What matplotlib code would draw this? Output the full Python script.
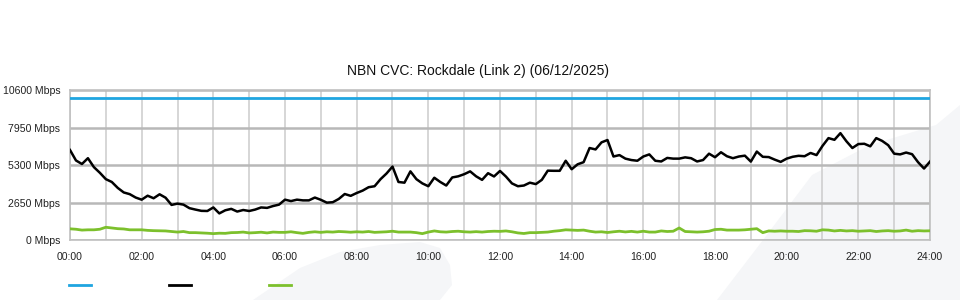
import matplotlib
matplotlib.use("Agg")
from matplotlib import pyplot as plt
from matplotlib.patches import Polygon
from matplotlib.lines import Line2D
import numpy as np

# 10 minute samples, hours since midnight
hours = np.arange(0, 24 + 1e-9, 1 / 6)

capacity_mbps = 10000

traffic_mbps = [
    6360, 5620, 5370, 5780, 5150, 4750,
    4300, 4100, 3680, 3360, 3240, 3000,
    2850, 3130, 2950, 3230, 2990, 2480,
    2570, 2500, 2250, 2150, 2060, 2050,
    2300, 1880, 2100, 2200, 2010, 2120,
    2050, 2150, 2300, 2270, 2400, 2500,
    2850, 2750, 2850, 2800, 2800, 3000,
    2840, 2640, 2670, 2900, 3250, 3120,
    3320, 3490, 3730, 3800, 4300, 4700,
    5190, 4100, 4050, 4850, 4300, 4000,
    3800, 4400, 4100, 3850, 4420, 4500,
    4650, 4850, 4500, 4250, 4720, 4490,
    4880, 4480, 4000, 3800, 3850, 4050,
    3950, 4250, 4900, 4890, 4890, 5600,
    5000, 5350, 5500, 6500, 6400, 6900,
    7066, 5900, 6000, 5750, 5650, 5600,
    5900, 6050, 5600, 5550, 5800, 5750,
    5750, 5840, 5780, 5550, 5650, 6100,
    5850, 6200, 5920, 5780, 5900, 5960,
    5540, 6250, 5880, 5860, 5680, 5520,
    5750, 5880, 5950, 5920, 6150, 6000,
    6650, 7200, 7080, 7550, 6980, 6500,
    6780, 6800, 6620, 7200, 7000, 6700,
    6100, 6050, 6180, 6064, 5500, 5050,
    5540,
]

upload_mbps = [
    790, 760, 700, 720, 720, 760,
    900, 850, 800, 780, 720, 720,
    720, 680, 660, 650, 640, 600,
    560, 600, 520, 520, 500, 480,
    450, 480, 470, 520, 530, 560,
    500, 520, 550, 500, 560, 540,
    540, 580, 520, 470, 540, 580,
    540, 580, 560, 600, 580, 550,
    580, 560, 600, 540, 560, 580,
    620, 560, 560, 560, 520, 450,
    560, 640, 580, 560, 600, 620,
    580, 560, 590, 560, 600, 620,
    610, 640, 580, 500, 460, 520,
    520, 540, 560, 620, 660, 720,
    700, 680, 700, 620, 560, 580,
    530, 580, 620, 570, 610, 560,
    620, 560, 560, 640, 600, 620,
    850, 600, 580, 560, 580, 620,
    740, 760, 700, 700, 700, 720,
    760, 800, 520, 640, 620, 640,
    620, 620, 600, 660, 650, 620,
    720, 700, 640, 680, 640, 660,
    620, 640, 660, 600, 640, 660,
    620, 640, 700, 620, 660, 640,
    650,
]

y_ticks = [0, 2650, 5300, 7950, 10600]
x_ticks = list(range(0, 25, 2))
x_labels = ["%02d:00" % h for h in x_ticks]

BLUE = "#1fa5e0"
GREEN = "#7cc02c"
SWOOSH = "#f5f6f8"

plt.rcParams["font.family"] = ["Liberation Sans", "DejaVu Sans"]

fig = plt.figure(figsize=(9.6, 3.0), dpi=100)
W, H = 960.0, 300.0

# faint background shapes
def px(points):
    return [(x / W, 1 - y / H) for x, y in points]

fig.add_artist(Polygon(px([(253, 300), (300, 268), (340, 252), (380, 245), (420, 242),
                           (440, 248), (450, 265), (452, 285), (440, 300)]),
                       closed=True, transform=fig.transFigure, facecolor=SWOOSH,
                       edgecolor="none", zorder=0))
fig.add_artist(Polygon(px([(717, 300), (763, 240), (812, 175), (870, 145), (936, 125),
                           (960, 105), (960, 300)]),
                       closed=True, transform=fig.transFigure, facecolor=SWOOSH,
                       edgecolor="none", zorder=0))

ax = fig.add_axes([70 / W, 1 - 240 / H, 860 / W, 150 / H])
ax.set_facecolor("none")

ax.plot(hours, [capacity_mbps] * len(hours), color=BLUE, lw=2.0, zorder=3)
ax.plot(hours, traffic_mbps, color="black", lw=1.8, zorder=4)
ax.plot(hours, upload_mbps, color=GREEN, lw=2.0, zorder=3)

ax.set_xlim(0, 24)
ax.set_ylim(0, 10600)
ax.set_xticks(x_ticks)
ax.set_xticklabels(x_labels)
ax.set_xticks(range(0, 25), minor=True)
ax.set_yticks(y_ticks)
ax.set_yticklabels(["%d Mbps" % v for v in y_ticks])
ax.tick_params(axis="both", which="both", length=0, labelsize=7.6, colors="#222222")
ax.tick_params(axis="y", pad=7)
ax.tick_params(axis="x", pad=9)

ax.grid(True, axis="x", which="both", color="#cccccc", lw=1.1, zorder=1)
ax.grid(True, axis="y", which="major", color="#b8b8b8", lw=1.8, zorder=1)
ax.set_axisbelow(True)
for side in ["top", "left", "right", "bottom"]:
    ax.spines[side].set_color("#c0c0c0")
    ax.spines[side].set_linewidth(1.2)

fig.text(478 / W, 1 - 71 / H, "NBN CVC: Rockdale (Link 2) (06/12/2025)",
         ha="center", va="center", fontsize=10, color="#111111")

# legend swatches, no labels
for x0, c in [(69, BLUE), (169, "black"), (269, GREEN)]:
    fig.add_artist(Line2D([x0 / W, (x0 + 22) / W], [1 - 285 / H, 1 - 285 / H],
                          transform=fig.transFigure, color=c, lw=2.0))

fig.savefig("out.png", dpi=100)
